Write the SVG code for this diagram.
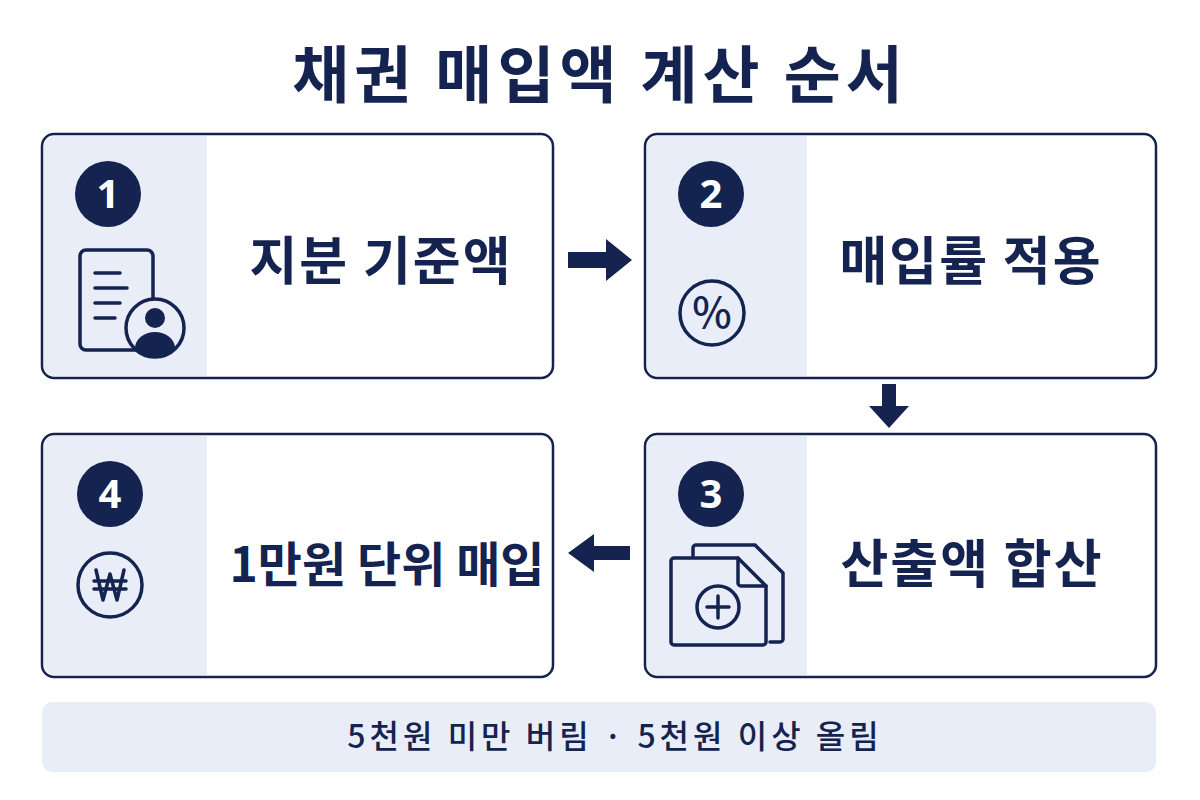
<svg xmlns="http://www.w3.org/2000/svg" width="1200" height="800" viewBox="0 0 1200 800">
<style>
text{font-family:"Noto Sans CJK KR","Noto Sans",sans-serif;fill:#14234f}
.t{font-size:52px;font-weight:700;letter-spacing:2px}
.card{fill:#fff;stroke:#14234f;stroke-width:2.5}
.pan{fill:#e8edf8}
.num{fill:#14234f}
.nt{fill:#fff;font-size:40px;font-weight:700;font-family:"Noto Sans",sans-serif}
.ic{fill:none;stroke:#14234f;stroke-width:3.5;stroke-linecap:round;stroke-linejoin:round}
.ar{fill:#14234f}
</style>
<rect width="1200" height="800" fill="#fff"/>
<text x="600" y="98" text-anchor="middle" font-size="62" font-weight="700" letter-spacing="5">채권 매입액 계산 순서</text>
<g id="node1">
<rect class="card" x="42" y="134" width="511" height="244" rx="12"/>
<path class="pan" d="M54 136h153v240h-153a10 10 0 0 1-10-10v-220a10 10 0 0 1 10-10z"/>
<circle class="num" cx="108" cy="194" r="33"/><text class="nt" x="108" y="208" text-anchor="middle">1</text>
<rect class="ic" x="80" y="250" width="73" height="100" rx="6"/>
<path class="ic" d="M95 273h25M95 288h32M95 303h25M95 318h20"/>
<circle cx="155" cy="328" r="29" fill="#e8edf8" stroke="#14234f" stroke-width="3.5"/>
<circle cx="155" cy="318" r="10" fill="#14234f"/>
<path d="M135 348a20 16 0 0 1 40 0a26 26 0 0 1-40 0z" fill="#14234f"/>
<text class="t" x="381" y="280" text-anchor="middle">지분 기준액</text>
</g>
<g id="node2">
<rect class="card" x="645" y="134" width="511" height="244" rx="12"/>
<path class="pan" d="M657 136h150v240h-150a10 10 0 0 1-10-10v-220a10 10 0 0 1 10-10z"/>
<circle class="num" cx="711" cy="194" r="33"/><text class="nt" x="711" y="208" text-anchor="middle">2</text>
<circle class="ic" cx="712" cy="313" r="32"/>
<text x="712" y="328" text-anchor="middle" font-size="42" font-weight="500" font-family="Noto Sans,sans-serif">%</text>
<text class="t" x="971" y="280" text-anchor="middle">매입률 적용</text>
</g>
<g id="node3">
<rect class="card" x="645" y="434" width="511" height="243" rx="12"/>
<path class="pan" d="M657 436h150v239h-150a10 10 0 0 1-10-10v-219a10 10 0 0 1 10-10z"/>
<circle class="num" cx="711" cy="494" r="33"/><text class="nt" x="711" y="508" text-anchor="middle">3</text>
<path class="ic" d="M693 556v-8a3 3 0 0 1 3-3h59l28 28v66a3 3 0 0 1-3 3h-10"/>
<path d="M674 558h64l28 28v56a3 3 0 0 1-3 3h-89a3 3 0 0 1-3-3v-81a3 3 0 0 1 3-3z" fill="#e8edf8" stroke="#14234f" stroke-width="3.5" stroke-linejoin="round"/>
<path class="ic" d="M738 558v25a3 3 0 0 0 3 3h25"/>
<circle class="ic" cx="718" cy="607" r="21"/>
<path class="ic" d="M718 596v22M707 607h22"/>
<text class="t" x="972" y="583" text-anchor="middle">산출액 합산</text>
</g>
<g id="node4">
<rect class="card" x="42" y="434" width="511" height="243" rx="12"/>
<path class="pan" d="M54 436h153v239h-153a10 10 0 0 1-10-10v-219a10 10 0 0 1 10-10z"/>
<circle class="num" cx="110" cy="494" r="33"/><text class="nt" x="110" y="508" text-anchor="middle">4</text>
<circle class="ic" cx="110" cy="585" r="32"/>
<path class="ic" d="M96 570l7 30l7-26l7 26l7-30M94 581h32M94 589h32" stroke-width="3"/>
<text class="t" x="387" y="582" text-anchor="middle" style="font-size:48px;letter-spacing:0">1만원 단위 매입</text>
</g>
<g id="connectors">
<path class="ar" d="M568 252h38v-13l26 21l-26 21v-13h-38z"/>
<path class="ar" d="M882 384h14v22h13l-20 22l-20-22h13z"/>
<path class="ar" d="M630 546h-36v-12l-26 19l26 19v-12h36z"/>
</g>
<g id="note">
<rect x="42" y="702" width="1114" height="70" rx="10" fill="#e8edf8"/>
<text x="615" y="748" text-anchor="middle" font-size="32" font-weight="500" letter-spacing="4">5천원 미만 버림 · 5천원 이상 올림</text>
</g>
</svg>
